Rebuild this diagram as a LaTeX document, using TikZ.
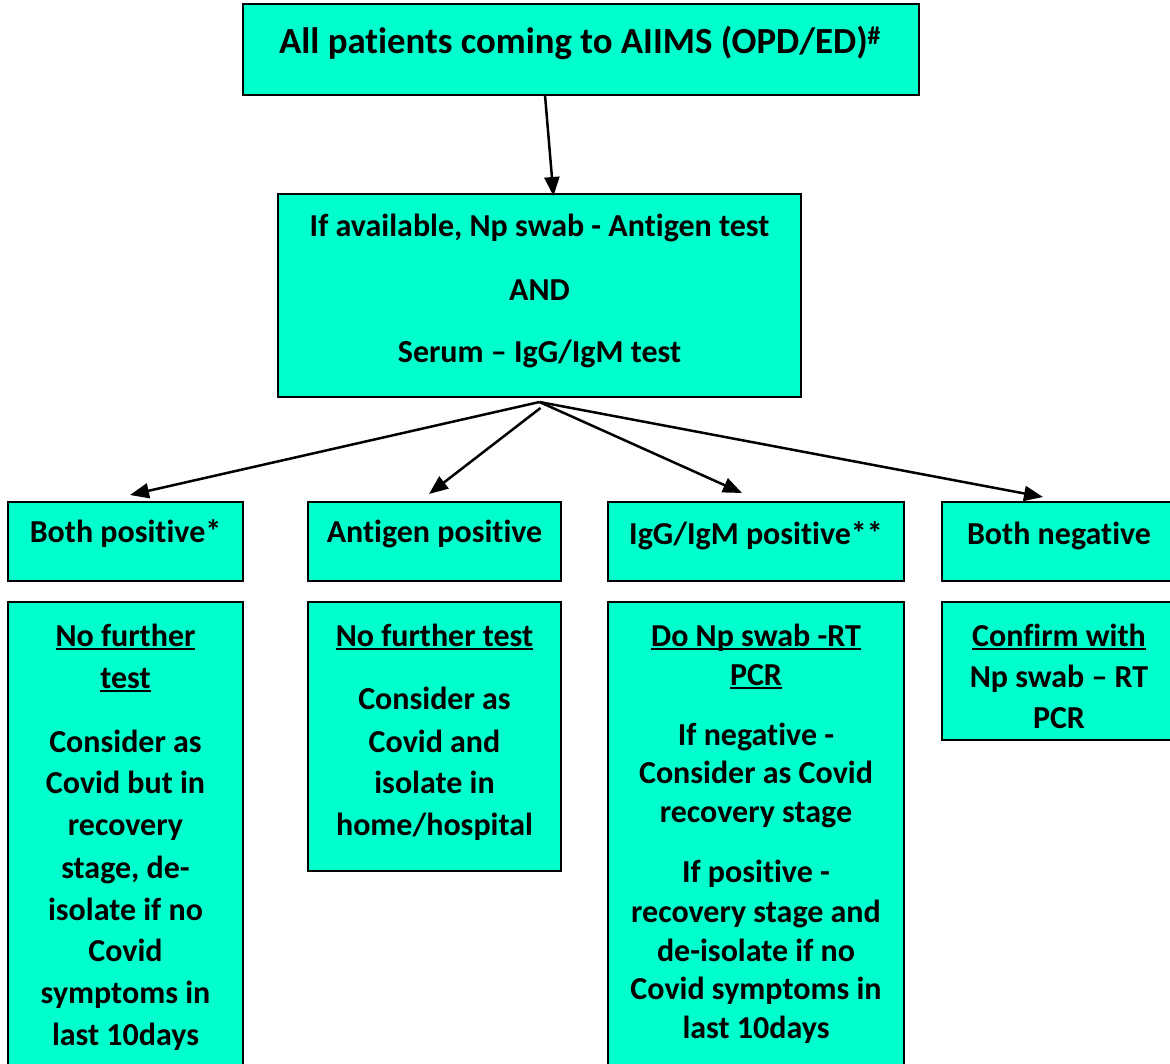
\documentclass[tikz,border=0pt]{standalone}
\usepackage{fontspec}
\setmainfont{Carlito}[Ligatures=NoCommon]
\newcommand{\myul}[1]{\leavevmode\setbox0=\hbox{#1}\rlap{\rule[-4pt]{\wd0}{2pt}}\box0}
\usetikzlibrary{arrows.meta}
\definecolor{boxfill}{HTML}{00FFCC}
\tikzset{
  box/.style={draw=black, line width=2.2pt, fill=boxfill, inner sep=0pt, outer sep=0pt},
  txt/.style={anchor=base, inner sep=0pt, font=\fontsize{32}{38}\selectfont\bfseries},
  bigtxt/.style={anchor=base, inner sep=0pt, font=\fontsize{36.8}{43}\selectfont\bfseries},
  arr/.style={-{Triangle[length=19pt,width=15pt]}, line width=2.5pt}
}
\begin{document}
\begin{tikzpicture}[x=1pt,y=-1pt]
\useasboundingbox (0,0) rectangle (1170,1064);
% boxes
\node[box, minimum width=676pt, minimum height=91pt] (top) at (581,49.5) {};
\node[box, minimum width=523pt, minimum height=203pt] (mid) at (539.5,295.5) {};
\node[box, minimum width=235pt, minimum height=79pt] (A) at (125.5,541.5) {};
\node[box, minimum width=253pt, minimum height=79pt] (B) at (434.5,541.5) {};
\node[box, minimum width=296pt, minimum height=79pt] (C) at (756,541.5) {};
\node[box, minimum width=234pt, minimum height=79pt] (D) at (1059,541.5) {};
\node[box, minimum width=235pt, minimum height=478pt] (A2) at (125.5,841) {};
\node[box, minimum width=253pt, minimum height=269pt] (B2) at (434.5,736.5) {};
\node[box, minimum width=296pt, minimum height=478pt] (C2) at (756,841) {};
\node[box, minimum width=234pt, minimum height=138pt] (D2) at (1059,671) {};
% texts
\node[bigtxt] (t0) at (580,54) {All patients coming to AIIMS (OPD/ED)\textsuperscript{\#}};
\node[txt] (m1) at (539.5,237) {If available, Np swab - Antigen test};
\node[txt] (m2) at (539.5,301) {AND};
\node[txt] (m3) at (539.5,363) {Serum – IgG/IgM test};
\node[txt] (a0) at (125.5,542) {Both positive*};
\node[txt] (b0) at (434.5,542) {Antigen positive};
\node[txt] (c0) at (756,544) {IgG/IgM positive**};
\node[txt] (d0) at (1059,544) {Both negative};
% A2
\node[txt] (a1) at (125.5,646) {\myul{No further}};
\node[txt] (a2) at (125.5,688) {\myul{test}};
\node[txt] (a3) at (125.5,752) {Consider as};
\node[txt] (a4) at (125.5,793) {Covid but in};
\node[txt] (a5) at (125.5,835) {recovery};
\node[txt] (a6) at (125.5,878) {stage, de-};
\node[txt] (a7) at (125.5,920) {isolate if no};
\node[txt] (a8) at (125.5,961) {Covid};
\node[txt] (a9) at (125.5,1003) {symptoms in};
\node[txt] (a10) at (125.5,1045) {last 10days};
% B2
\node[txt] (b1) at (434.5,646) {\myul{No further test}};
\node[txt] (b2) at (434.5,709) {Consider as};
\node[txt] (b3) at (434.5,752) {Covid and};
\node[txt] (b4) at (434.5,793) {isolate in};
\node[txt] (b5) at (434.5,835) {home/hospital};
% C2
\node[txt] (c1) at (756,646) {\myul{Do Np swab -RT}};
\node[txt] (c2) at (756,685) {\myul{PCR}};
\node[txt] (c3) at (756,745) {If negative -};
\node[txt] (c4) at (756,783) {Consider as Covid};
\node[txt] (c5) at (756,822) {recovery stage};
\node[txt] (c6) at (756,882) {If positive -};
\node[txt] (c7) at (756,922) {recovery stage and};
\node[txt] (c8) at (756,961) {de-isolate if no};
\node[txt] (c9) at (756,999) {Covid symptoms in};
\node[txt] (c10) at (756,1038) {last 10days};
% D2
\node[txt] (d1) at (1059,646) {\myul{Confirm with}};
\node[txt] (d2) at (1059,687) {Np swab – RT};
\node[txt] (d3) at (1059,728) {PCR};
% connectors
\draw[arr] ([xshift=-36pt]top.south) -- ([xshift=14pt,yshift=-2pt]mid.north);
\coordinate (split) at ([yshift=-5pt]mid.south);
\draw[arr] (split) -- ([xshift=4.5pt,yshift=7pt]A.north);
\draw[arr] ([xshift=1pt,yshift=-6pt]split) -- ([xshift=-5.5pt,yshift=8pt]B.north);
\draw[arr] (split) -- ([xshift=-14pt,yshift=9pt]C.north);
\draw[arr] (split) -- ([xshift=-16pt,yshift=5pt]D.north);
\end{tikzpicture}
\end{document}
